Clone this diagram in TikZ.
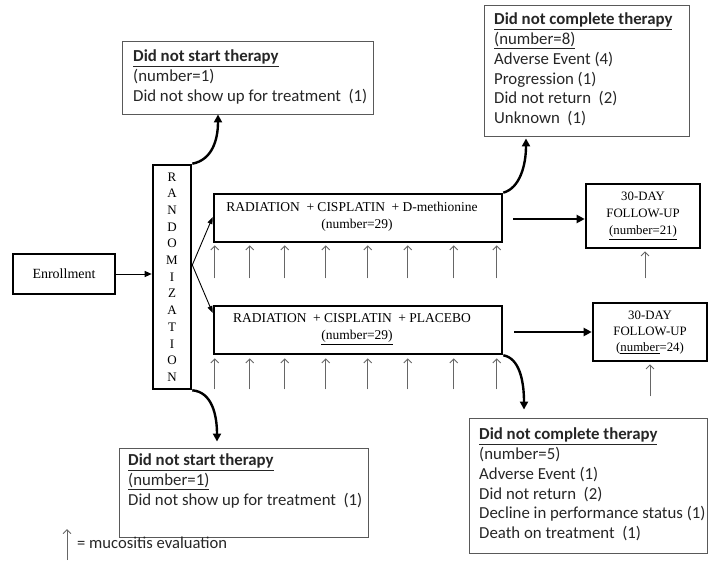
\documentclass[tikz,border=0pt]{standalone}
\usepackage{fontspec}
\setmainfont{Carlito}
\newfontfamily\tms{Liberation Serif}
\usetikzlibrary{arrows.meta,calc}
\begin{document}
\begin{tikzpicture}[x=1pt,y=-1pt,
  thinbox/.style={draw=black!65, line width=0.9pt, minimum width=#1, inner sep=0pt},
  thickbox/.style={draw=black, line width=2.6pt, inner sep=0pt},
  sans/.style={font=\fontsize{16.8}{19.7}\selectfont, inner sep=0pt, anchor=north west, align=left, text=black!85},
  serif/.style={font=\tms\fontsize{13.5}{17}\selectfont, align=center, inner sep=0pt},
  bigarrow/.style={line width=2.4pt, -{Triangle[length=8pt,width=8pt]}},
  smallarrow/.style={line width=1pt, -{Triangle[length=7pt,width=6pt]}},
  muco/.style={line width=0.9pt, draw=black!60, -{Straight Barb[length=4pt,width=8pt]}}
]
\useasboundingbox (0,0) rectangle (708,561);

% boxes
\node[thinbox=251pt, minimum height=73pt] (dns1) at (247.5,77.5) {};
\node[thinbox=205pt, minimum height=131pt] (dnc1) at (586.5,70.5) {};
\node[thinbox=249pt, minimum height=89pt] (dns2) at (243.5,492.5) {};
\node[thinbox=238pt, minimum height=135pt] (dnc2) at (588,485.5) {};

\node[thickbox, minimum width=102pt, minimum height=40pt, font=\tms\fontsize{14}{16}\selectfont] (enr) at (64,274) {Enrollment};
\node[thickbox, minimum width=38pt, minimum height=224pt, font=\tms\fontsize{13}{16.7}\selectfont, align=center] (rand) at (172,277)
  {R\\A\\N\\D\\O\\M\\I\\Z\\A\\T\\I\\O\\N};
\node[thickbox, minimum width=288pt, minimum height=48pt] (tr1) at (358,218) {};
\node[thickbox, minimum width=288pt, minimum height=48pt] (tr2) at (358,330) {};
\node[thickbox, minimum width=114pt, minimum height=64pt] (fu1) at (643,216) {};
\node[thickbox, minimum width=114pt, minimum height=58pt] (fu2) at (650,332) {};

% texts
\node[sans] (t1) at (133,50) {\textbf{\underline{Did not start therapy}}\\(number=1)\\Did not show up for treatment\ \ (1)};
\node[sans] (t2) at (494,13) {\textbf{\underline{Did not complete therapy}}\\\underline{(number=8)}\\Adverse Event (4)\\Progression (1)\\Did not return\ \ (2)\\Unknown\ \ (1)};
\node[sans] (t3) at (128,454) {\textbf{\underline{Did not start therapy}}\\\underline{(number=1)}\\Did not show up for treatment\ \ (1)};
\node[sans] (t4) at (479,428) {\textbf{\underline{Did not complete therapy}}\\(number=5)\\Adverse Event (1)\\Did not return\ \ (2)\\Decline in performance status (1)\\Death on treatment\ \ (1)};

\node[serif] (x1) at (352,217) {RADIATION\ \ + CISPLATIN\ \ + D-methionine\\\hspace*{10pt}(number=29)};
\node[serif] (x2) at (352,329) {RADIATION\ \ + CISPLATIN\ \ + PLACEBO\\\hspace*{10pt}\underline{(number=29)}};
\node[serif, font=\tms\fontsize{12.8}{17}\selectfont] (f1) at (643,216) {30-DAY\\FOLLOW-UP\\\underline{(number=21)}};
\node[serif, font=\tms\fontsize{12.8}{16}\selectfont] (f2) at (650,333) {30-DAY\\FOLLOW-UP\\(\underline{number}=24)};

% connectors
\draw[smallarrow] (enr.east) -- (rand.west |- enr.east);
\coordinate (rsplit) at ([yshift=12pt]rand.east);
\draw[line width=0.9pt, -{Triangle[length=7pt,width=5pt]}] (rsplit) -- ([yshift=1pt]tr1.west);
\draw[line width=0.9pt, -{Triangle[length=7pt,width=5pt]}] (rsplit) -- ([yshift=17pt]tr2.west);

\draw[bigarrow] (rand.north east) .. controls (212,160) and (218,140) .. ([xshift=-29.5pt]dns1.south);
\draw[bigarrow] (rand.south east) .. controls (212,392) and (217,415) .. ([xshift=-26.5pt,yshift=6pt]dns2.north);
\draw[bigarrow] (tr1.north east) .. controls (520,188) and (526,165) .. ([xshift=-60.5pt,yshift=-2pt]dnc1.south);
\draw[bigarrow] (tr2.south east) .. controls (519,358) and (524,380) .. ([xshift=-64pt,yshift=8pt]dnc2.north);

\draw[bigarrow, shorten <=10pt] ([yshift=-1pt]tr1.east) -- ([yshift=-3pt]fu1.west);
\draw[bigarrow, shorten <=11pt] ([yshift=-2pt]tr2.east) -- (fu2.west);

% mucositis evaluations
\foreach \dx in {2,37,72,113,155,195,241,284}{
  \draw[muco] ([shift={(\dx,35)}]tr1.south west) -- ([shift={(\dx,2)}]tr1.south west);
  \draw[muco] ([shift={(\dx,34)}]tr2.south west) -- ([shift={(\dx,3)}]tr2.south west);
}
\draw[muco] ([yshift=-29pt,xshift=2pt]fu1.south) -- ([yshift=-2pt,xshift=2pt]fu1.south);
\draw[muco] ([yshift=-34pt]fu2.south) -- ([yshift=-2pt]fu2.south);

% legend
\coordinate (lg) at (67,560);
\draw[muco] (lg) -- ++(0,-31);
\node[sans, anchor=west, font=\fontsize{16.6}{18}\selectfont] (lt) at (77,543) {= mucositis evaluation};
\end{tikzpicture}
\end{document}
